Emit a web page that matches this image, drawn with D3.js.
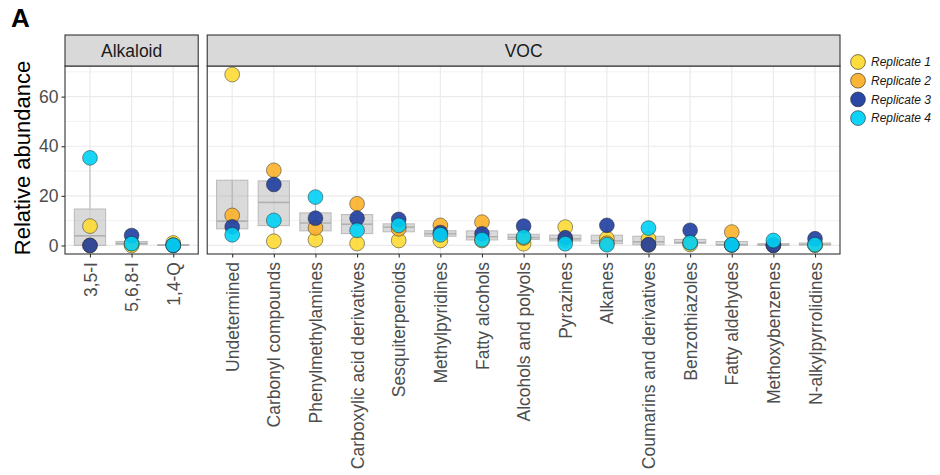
<!DOCTYPE html>
<html>
<head>
<meta charset="utf-8">
<script src="https://cdn.jsdelivr.net/npm/d3@7"></script>
<style>
  body { margin: 0; background: #fff; }
  text { font-family: "Liberation Sans", Arial, Helvetica, sans-serif; }
</style>
</head>
<body>
<div id="chart"></div>
<script>
// categories per facet
var alkaloidCats = ["3,5-I", "5,6,8-I", "1,4-Q"];
var vocCats = ["Undetermined", "Carbonyl compounds", "Phenylmethylamines",
  "Carboxylic acid derivatives", "Sesquiterpenoids", "Methylpyridines",
  "Fatty alcohols", "Alcohols and polyols", "Pyrazines", "Alkanes",
  "Coumarins and derivatives", "Benzothiazoles", "Fatty aldehydes",
  "Methoxybenzenes", "N-alkylpyrrolidines"];

// replicate values, alkaloid categories first then VOC categories
var rep1 = [7.8, 0.0, 1.0, 68.9, 1.7, 2.3, 0.8, 2.0, 2.0, 2.0, 0.7, 7.4, 2.8, 2.6, 0.4, 0.2, 0.1, 0.1];
var rep2 = [0.0, 0.8, 0.1, 12.1, 30.3, 7.1, 16.8, 6.7, 8.1, 9.4, 3.0, 2.2, 0.9, 0.2, 1.2, 5.4, 0.3, 0.4];
var rep3 = [0.0, 4.0, 0.0, 7.5, 24.6, 11.0, 11.0, 10.5, 5.2, 4.7, 7.8, 3.1, 8.1, 0.3, 6.1, 0.2, 0.0, 2.7];
var rep4 = [35.3, 0.7, 0.1, 4.3, 10.1, 19.5, 6.1, 8.1, 4.3, 2.3, 3.4, 0.7, 0.3, 7.0, 1.1, 0.3, 2.0, 0.3];

var replicates = ["Replicate 1", "Replicate 2", "Replicate 3", "Replicate 4"];
var repColors = ["#FDDA35", "#FBB12B", "#1E3DA0", "#00D2F5"];

var yTicks = [0, 20, 40, 60];
var yMinor = [10, 30, 50, 70];

var width = 940, height = 475;
var svg = d3.select("#chart").append("svg")
  .attr("width", width).attr("height", height);

var plotTop = 66, plotBottom = 254, plotLeft = 65, plotRight = 840, gap = 9;
var step = (plotRight - plotLeft - gap) / (alkaloidCats.length + 0.2 + vocCats.length + 0.2);

var allVals = rep1.concat(rep2, rep3, rep4);
var yMax = d3.max(allVals), yMinV = d3.min(allVals);
var pad = (yMax - yMinV) * 0.05;
var y = d3.scaleLinear().domain([yMinV - pad, yMax + pad]).range([plotBottom, plotTop]);

var panels = [
  { name: "Alkaloid", cats: alkaloidCats, offset: 0,
    x0: plotLeft, x1: plotLeft + step * (alkaloidCats.length + 0.2) },
  { name: "VOC", cats: vocCats, offset: alkaloidCats.length,
    x0: plotLeft + step * (alkaloidCats.length + 0.2) + gap, x1: plotRight }
];

var reps = [rep1, rep2, rep3, rep4];

panels.forEach(function (p) {
  var x = d3.scalePoint().domain(p.cats).range([p.x0, p.x1]).padding(0.6);
  var g = svg.append("g");

  // panel background + grid
  g.append("rect").attr("x", p.x0).attr("y", plotTop)
    .attr("width", p.x1 - p.x0).attr("height", plotBottom - plotTop).attr("fill", "#fff");
  g.selectAll(".minor").data(yMinor).enter().append("line")
    .attr("x1", p.x0).attr("x2", p.x1)
    .attr("y1", function (d) { return y(d); }).attr("y2", function (d) { return y(d); })
    .attr("stroke", "#F2F2F2").attr("stroke-width", 1);
  g.selectAll(".major").data(yTicks).enter().append("line")
    .attr("x1", p.x0).attr("x2", p.x1)
    .attr("y1", function (d) { return y(d); }).attr("y2", function (d) { return y(d); })
    .attr("stroke", "#EBEBEB").attr("stroke-width", 1.2);
  g.selectAll(".vgrid").data(p.cats).enter().append("line")
    .attr("x1", function (d) { return x(d); }).attr("x2", function (d) { return x(d); })
    .attr("y1", plotTop).attr("y2", plotBottom)
    .attr("stroke", "#EBEBEB").attr("stroke-width", 1.2);

  // boxplots
  var bw = step * 0.75;
  p.cats.forEach(function (c, i) {
    var vals = reps.map(function (r) { return r[p.offset + i]; }).sort(d3.ascending);
    var q1 = d3.quantile(vals, 0.25), med = d3.quantile(vals, 0.5), q3 = d3.quantile(vals, 0.75);
    var iqr = q3 - q1;
    var lo = d3.min(vals.filter(function (v) { return v >= q1 - 1.5 * iqr; }));
    var hi = d3.max(vals.filter(function (v) { return v <= q3 + 1.5 * iqr; }));
    var cx = x(c);
    g.append("line").attr("x1", cx).attr("x2", cx).attr("y1", y(q3)).attr("y2", y(hi))
      .attr("stroke", "#BDBDBD").attr("stroke-width", 1.1);
    g.append("line").attr("x1", cx).attr("x2", cx).attr("y1", y(q1)).attr("y2", y(lo))
      .attr("stroke", "#BDBDBD").attr("stroke-width", 1.1);
    g.append("rect").attr("x", cx - bw / 2).attr("width", bw)
      .attr("y", y(q3)).attr("height", Math.max(y(q1) - y(q3), 0.5))
      .attr("fill", "#A6A6A6").attr("fill-opacity", 0.42)
      .attr("stroke", "#BDBDBD").attr("stroke-width", 1.1);
    g.append("line").attr("x1", cx - bw / 2).attr("x2", cx + bw / 2)
      .attr("y1", y(med)).attr("y2", y(med))
      .attr("stroke", "#B0B0B0").attr("stroke-width", 1.6);
  });

  // points, drawn replicate by replicate
  reps.forEach(function (r, ri) {
    g.selectAll(".pt" + ri).data(p.cats).enter().append("circle")
      .attr("cx", function (d) { return x(d); })
      .attr("cy", function (d, i) { return y(r[p.offset + i]); })
      .attr("r", 7.4)
      .attr("fill", repColors[ri]).attr("fill-opacity", 0.9)
      .attr("stroke", "#222").attr("stroke-opacity", 0.8).attr("stroke-width", 0.6);
  });

  // panel border
  g.append("rect").attr("x", p.x0).attr("y", plotTop)
    .attr("width", p.x1 - p.x0).attr("height", plotBottom - plotTop)
    .attr("fill", "none").attr("stroke", "#333").attr("stroke-width", 1.1);

  // strip
  g.append("rect").attr("x", p.x0).attr("y", 35)
    .attr("width", p.x1 - p.x0).attr("height", plotTop - 35)
    .attr("fill", "#D9D9D9").attr("stroke", "#333").attr("stroke-width", 1.1);
  g.append("text").attr("x", (p.x0 + p.x1) / 2).attr("y", 56.5)
    .attr("text-anchor", "middle").attr("font-size", 17.5).attr("fill", "#1A1A1A")
    .text(p.name);

  // x axis
  var xAxis = d3.axisBottom(x).tickSize(3.5).tickPadding(4);
  var ax = svg.append("g").attr("transform", "translate(0," + plotBottom + ")").call(xAxis);
  ax.select(".domain").remove();
  ax.selectAll(".tick line").attr("stroke", "#333").attr("stroke-width", 1.1);
  ax.selectAll(".tick text")
    .attr("font-size", 17.5).attr("fill", "#4D4D4D")
    .attr("font-family", "'Liberation Sans', Arial, sans-serif")
    .attr("transform", "rotate(-90)")
    .attr("text-anchor", "end").attr("x", -8).attr("y", 0).attr("dy", "0.35em");
});

// y axis
var yAxis = d3.axisLeft(y).tickValues(yTicks).tickSize(3.5).tickPadding(3);
var ay = svg.append("g").attr("transform", "translate(" + plotLeft + ",0)").call(yAxis);
ay.select(".domain").remove();
ay.selectAll(".tick line").attr("stroke", "#333").attr("stroke-width", 1.1);
ay.selectAll(".tick text").attr("font-size", 17.5).attr("fill", "#4D4D4D")
  .attr("font-family", "'Liberation Sans', Arial, sans-serif");

svg.append("text")
  .attr("transform", "translate(30,158) rotate(-90)")
  .attr("text-anchor", "middle").attr("font-size", 22).attr("fill", "#000")
  .text("Relative abundance");

svg.append("text").attr("x", 11).attr("y", 27)
  .attr("font-size", 26).attr("font-weight", "bold").attr("fill", "#000")
  .text("A");

// legend
var leg = svg.append("g").attr("transform", "translate(858,62)");
replicates.forEach(function (name, i) {
  var row = leg.append("g").attr("transform", "translate(0," + (i * 18.7) + ")");
  row.append("circle").attr("r", 7.4).attr("fill", repColors[i]).attr("fill-opacity", 0.95)
    .attr("stroke", "#222").attr("stroke-width", 0.6);
  row.append("text").attr("x", 13).attr("y", 4.2)
    .attr("font-size", 12).attr("font-style", "italic").attr("fill", "#1A1A1A")
    .text(name);
});
</script>
</body>
</html>
